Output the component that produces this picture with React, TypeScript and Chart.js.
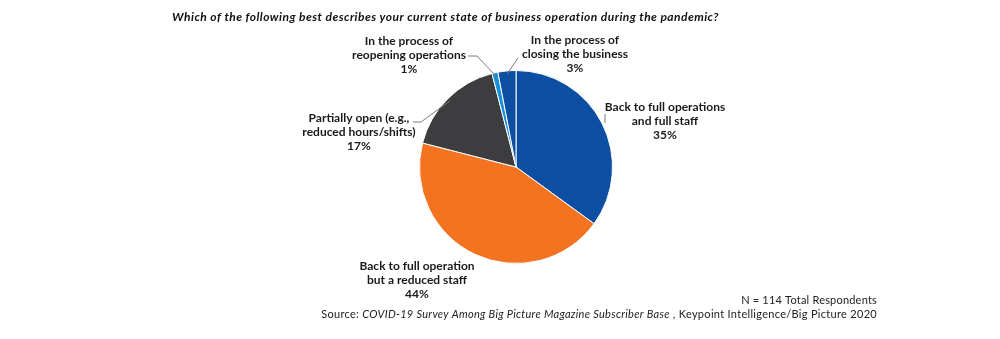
import React, { useEffect, useRef } from "react";
import { Chart, registerables } from "chart.js";

Chart.register(...registerables);

const categories = [
  "Back to full operations and full staff",
  "Back to full operation but a reduced staff",
  "Partially open (e.g., reduced hours/shifts)",
  "In the process of reopening operations",
  "In the process of closing the business",
];
const values = [35, 44, 17, 1, 3];
const colors = ["#0b4ea2", "#f37321", "#3d3d40", "#1b8fd8", "#0b4ea2"];
const labelLines = [
  ["Back to full operations", "and full staff", "35%"],
  ["Back to full operation", "but a reduced staff", "44%"],
  ["Partially open (e.g.,", "reduced hours/shifts)", "17%"],
  ["In the process of", "reopening operations", "1%"],
  ["In the process of", "closing the business", "3%"],
];
const titleText = "Which of the following best describes your current state of business operation during the pandemic?";
const noteText = "N = 114 Total Respondents";
const sourceParts = [
  { t: "Source: ", italic: false },
  { t: "COVID-19 Survey Among Big Picture Magazine Subscriber Base", italic: true },
  { t: " , Keypoint Intelligence/Big Picture 2020", italic: false },
];

// label layout: center x, first-line y, leader points, whether leader reaches the slice edge
const labelLayout = [
  { x: 665, y: 107, leader: [[605, 114], [605, 123]], toArc: false },
  { x: 417, y: 266, leader: null, toArc: false },
  { x: 359, y: 118, leader: [[413, 122], [421, 122]], toArc: true },
  { x: 409, y: 41, leader: [[468, 56], [477, 56]], toArc: true },
  { x: 575, y: 40, leader: [[518, 58]], toArc: true },
];

const FONT = "Lato, 'Open Sans', sans-serif";

const labelPlugin = {
  id: "labelPlugin",
  afterDraw(chart: any) {
    const ctx = chart.ctx;
    const meta = chart.getDatasetMeta(0);
    ctx.save();
    // title
    ctx.fillStyle = "#111";
    ctx.font = `italic bold 12px ${FONT}`;
    ctx.textAlign = "left";
    ctx.textBaseline = "middle";
    (ctx as any).letterSpacing = "0.45px";
    ctx.fillText(titleText, 172, 17);
    (ctx as any).letterSpacing = "0px";

    // labels
    ctx.font = `bold 12px ${FONT}`;
    ctx.textAlign = "center";
    labelLayout.forEach((lay, i) => {
      const lines = labelLines[i];
      lines.forEach((ln, j) => {
        ctx.fillStyle = "#1a1a1a";
        ctx.fillText(ln, lay.x, lay.y + j * 14);
      });
      if (lay.leader) {
        ctx.strokeStyle = "#7a7a7a";
        ctx.lineWidth = 1;
        ctx.beginPath();
        lay.leader.forEach((p, k) => {
          if (k === 0) ctx.moveTo(p[0], p[1]);
          else ctx.lineTo(p[0], p[1]);
        });
        if (lay.toArc) {
          const arc = meta.data[i] as any;
          const mid = (arc.startAngle + arc.endAngle) / 2;
          const ex = arc.x + Math.cos(mid) * (arc.outerRadius - 3);
          const ey = arc.y + Math.sin(mid) * (arc.outerRadius - 3);
          ctx.lineTo(ex, ey);
        }
        ctx.stroke();
      }
    });

    // footnotes
    ctx.fillStyle = "#222";
    ctx.textAlign = "right";
    ctx.font = `11px ${FONT}`;
    (ctx as any).letterSpacing = "0.2px";
    ctx.fillText(noteText, 877, 300);
    // source, right aligned
    (ctx as any).letterSpacing = "0.3px";
    const widths = sourceParts.map((p) => {
      ctx.font = `${p.italic ? "italic " : ""}11px ${FONT}`;
      return ctx.measureText(p.t).width;
    });
    const total = widths.reduce((a, b) => a + b, 0);
    let x = 877 - total;
    ctx.textAlign = "left";
    sourceParts.forEach((p, i) => {
      ctx.font = `${p.italic ? "italic " : ""}11px ${FONT}`;
      ctx.fillText(p.t, x, 314);
      x += widths[i];
    });
    ctx.restore();
  },
};

export default function App() {
  const ref = useRef<HTMLCanvasElement>(null);
  useEffect(() => {
    document.body.style.margin = "0";
    const chart = new Chart(ref.current!, {
      type: "pie",
      data: {
        labels: categories,
        datasets: [
          {
            data: values,
            backgroundColor: colors,
            borderColor: "#ffffff",
            borderWidth: 1,
          },
        ],
      },
      options: {
        responsive: false,
        animation: false,
        layout: { padding: { left: 419, right: 387, top: 70, bottom: 75 } },
        plugins: {
          legend: { display: false },
          tooltip: { enabled: false },
          title: { display: false },
        },
      },
      plugins: [labelPlugin],
    });
    return () => chart.destroy();
  }, []);
  return (
    <div style={{ position: "absolute", left: 0, top: 0, width: 1000, height: 339, background: "#fff" }}>
      <canvas ref={ref} width={1000} height={339} />
    </div>
  );
}
